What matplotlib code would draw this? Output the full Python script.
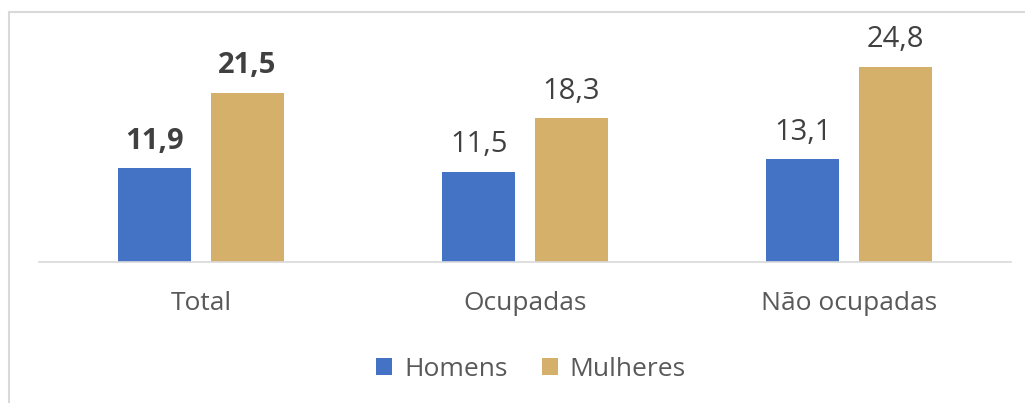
import numpy as np
import matplotlib
matplotlib.use("Agg")
import matplotlib.pyplot as plt
from matplotlib.patches import Rectangle

# data
categorias = ["Total", "Ocupadas", "Não ocupadas"]
homens = [11.9, 11.5, 13.1]
mulheres = [21.5, 18.3, 24.8]
rotulos_h = ["11,9", "11,5", "13,1"]
rotulos_m = ["21,5", "18,3", "24,8"]
negrito = [True, False, False]

cor_h = "#4472C4"
cor_m = "#D5B06B"

plt.rcParams["font.family"] = ["Open Sans", "DejaVu Sans"]

fig = plt.figure(figsize=(10.25, 4.03), dpi=100)
W, H = 1025, 403
# axes: x 39..1011, baseline at y=262, top at y=26
ax = fig.add_axes([39 / W, 1 - 262 / H, 972 / W, 236 / H])

x = np.arange(len(categorias))
largura = 0.225
desloc = 0.143
b1 = ax.bar(x - desloc, homens, largura, color=cor_h, label="Homens")
b2 = ax.bar(x + desloc, mulheres, largura, color=cor_m, label="Mulheres")

for i in range(len(categorias)):
    peso = "bold" if negrito[i] else "normal"
    ax.annotate(rotulos_h[i], (x[i] - desloc, homens[i]), xytext=(0, 14),
                textcoords="offset points", ha="center", va="baseline",
                fontsize=21, color="#404040", fontweight=peso)
    ax.annotate(rotulos_m[i], (x[i] + desloc, mulheres[i]), xytext=(0, 14),
                textcoords="offset points", ha="center", va="baseline",
                fontsize=21, color="#404040", fontweight=peso)

ax.set_xlim(-0.5, 2.5)
ax.set_ylim(0, 30)
ax.set_xticks(x)
ax.set_xticklabels(categorias, fontsize=19, color="#595959")
ax.tick_params(axis="x", length=0, pad=21)
ax.set_yticks([])
for s in ["top", "right", "left"]:
    ax.spines[s].set_visible(False)
ax.spines["bottom"].set_color("#d9d9d9")
ax.spines["bottom"].set_linewidth(1.2)

leg = fig.legend(loc="center", bbox_to_anchor=(531 / W, 1 - 369 / H), ncol=2,
                 frameon=False, fontsize=19, handlelength=0.6, handleheight=0.6,
                 handletextpad=0.45, columnspacing=1.3)
for t in leg.get_texts():
    t.set_color("#595959")

# outer chart border (right and bottom edges are cut off in the reference)
fig.patches.append(Rectangle((8.5 / W, -0.1), 1.2, 1.1 - 11.5 / H,
                             transform=fig.transFigure, fill=False,
                             edgecolor="#d9d9d9", linewidth=1.5))

fig.savefig("out.png", dpi=100)
